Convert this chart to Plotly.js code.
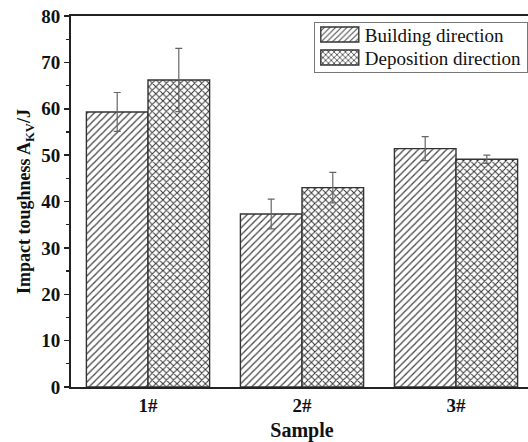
<!DOCTYPE html>
<html>
<head>
<meta charset="utf-8">
<script src="https://cdn.plot.ly/plotly-3.0.1.min.js"></script>
<style>
  html, body { margin: 0; padding: 0; background: #fff; overflow: hidden; }
  #chart { width: 533px; height: 442px; }
</style>
</head>
<body>
<div id="chart"></div>
<script>
// Impact toughness of the three samples, measured along two directions
const samples = ['1#', '2#', '3#'];
const buildingValues = [59.3, 37.3, 51.4];
const buildingErrors = [4.2, 3.2, 2.6];
const depositionValues = [66.2, 43.0, 49.1];
const depositionErrors = [6.8, 3.3, 0.9];

const serif = 'Liberation Serif, Times New Roman, serif';

const traces = [
  {
    type: 'bar',
    name: 'Building direction',
    x: samples,
    y: buildingValues,
    error_y: { type: 'data', array: buildingErrors, visible: true, color: '#666', thickness: 1.2, width: 3.5 },
    marker: {
      color: '#fff',
      line: { color: '#333', width: 1.4 },
      pattern: { shape: '/', fgcolor: '#444', bgcolor: '#fff', size: 5, solidity: 0.25 }
    }
  },
  {
    type: 'bar',
    name: 'Deposition direction',
    x: samples,
    y: depositionValues,
    error_y: { type: 'data', array: depositionErrors, visible: true, color: '#666', thickness: 1.2, width: 3.5 },
    marker: {
      color: '#fff',
      line: { color: '#333', width: 1.4 },
      pattern: { shape: 'x', fgcolor: '#333', bgcolor: '#fff', size: 5, solidity: 0.35 }
    }
  }
];

const layout = {
  width: 533,
  height: 442,
  margin: { l: 71, r: 0, t: 16, b: 55 },
  paper_bgcolor: '#fff',
  plot_bgcolor: '#fff',
  barmode: 'group',
  bargap: 0.2,
  bargroupgap: 0,
  font: { family: serif, color: '#111' },
  xaxis: {
    type: 'category',
    range: [-0.5, 2.5],
    showline: true,
    linecolor: '#222',
    linewidth: 2,
    mirror: true,
    ticks: '',
    showgrid: false,
    zeroline: false,
    tickfont: { family: serif, size: 19, color: '#111', weight: 'bold' },
    title: { text: '<b>Sample</b>', font: { family: serif, size: 20, color: '#111' }, standoff: 8 }
  },
  yaxis: {
    range: [0, 80],
    dtick: 10,
    showline: true,
    linecolor: '#222',
    linewidth: 2,
    ticks: 'outside',
    ticklen: 5,
    tickwidth: 1.5,
    tickcolor: '#222',
    minor: { dtick: 5, ticks: 'outside', ticklen: 3, tickwidth: 1.2, tickcolor: '#222' },
    showgrid: false,
    zeroline: false,
    tickfont: { family: serif, size: 19, color: '#111', weight: 'bold' },
    title: { text: '<b>Impact toughness A<sub>KV</sub>/J</b>', font: { family: serif, size: 18, color: '#111' }, standoff: 6 }
  },
  legend: {
    x: 527 / 533, xanchor: 'right',
    y: 0.985, yanchor: 'top',
    bgcolor: '#fff',
    bordercolor: '#777',
    borderwidth: 1,
    font: { family: serif, size: 19, color: '#111' },
    itemwidth: 40,
    tracegroupgap: 0
  },
  showlegend: true
};

Plotly.newPlot('chart', traces, layout, { displayModeBar: false, staticPlot: true }).then(function (gd) {
  // widen the legend swatches into rectangles
  gd.querySelectorAll('.legend .legendpoints path').forEach(function (p) {
    p.setAttribute('d', 'M19,7.5H-19V-7.5H19Z');
  });
  // tighten the legend rows and its frame
  const bg = gd.querySelector('.legend .bg');
  if (bg) bg.setAttribute('height', 50);
  gd.querySelectorAll('.legend .traces').forEach(function (g, i) {
    const m = /translate\(([-\d.]+)[ ,]+([-\d.]+)\)/.exec(g.getAttribute('transform') || '');
    const x = m ? m[1] : 0;
    g.setAttribute('transform', 'translate(' + x + ',' + (13 + i * 23) + ')');
  });
});
</script>
</body>
</html>
